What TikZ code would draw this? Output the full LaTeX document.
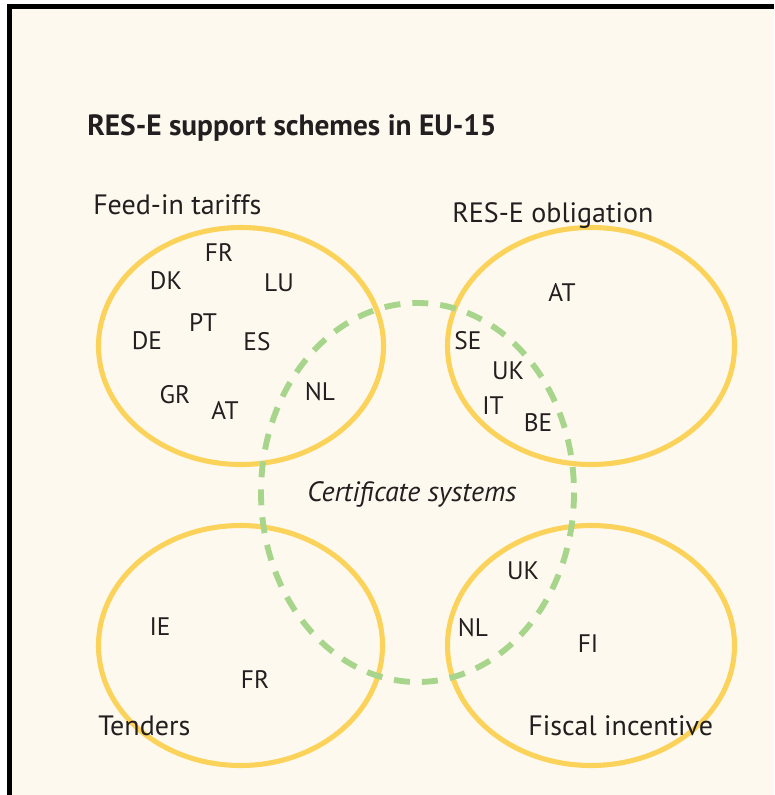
\documentclass[tikz,border=0pt]{standalone}
\usepackage{fontspec}
\setmainfont{PT Sans}
\definecolor{paper}{HTML}{FDF9EE}
\definecolor{sun}{HTML}{FBD25A}
\definecolor{leaf}{HTML}{A8D58C}
\definecolor{ink}{HTML}{231F20}

\begin{document}
\begin{tikzpicture}[x=0.75pt,y=-0.75pt,
  ring/.style={draw=sun,line width=3.8pt},
  cert/.style={draw=leaf,line width=4.4pt,dash pattern=on 12pt off 9pt},
  cc/.style={text=ink,inner sep=0pt,font=\fontsize{19}{22}\selectfont},
  head/.style={text=ink,inner sep=0pt,font=\fontsize{21}{24}\selectfont}]
  \useasboundingbox (0,0) rectangle (774,795);
  \fill[white] (0,0) rectangle (774,795);
  \fill[paper] (9,6) rectangle (774,795);
  \draw[line width=3.8pt] (9.5,795) -- (9.5,6.5) -- (774,6.5);
  % centres of the four schemes and of the certificate ring
  \coordinate (fit) at (241,346);
  \coordinate (obl) at (591,346);
  \coordinate (ten) at (240.5,645.5);
  \coordinate (fis) at (591,645.5);
  \coordinate (crt) at (417.5,492.5);
  \draw[ring] (fit) ellipse [x radius=142.5,y radius=118.5];
  \draw[ring] (obl) ellipse [x radius=143.5,y radius=118.5];
  \draw[ring] (ten) ellipse [x radius=142,y radius=120];
  \draw[ring] (fis) ellipse [x radius=143.5,y radius=120];
  \draw[cert] (crt) ellipse [x radius=156.5,y radius=189.5];
  % titles
  \node[text=ink,inner sep=0pt,anchor=west,font=\fontsize{22}{26}\selectfont\bfseries]
    (title) at (87,128) {RES-E support schemes in EU-15};
  \node[head,anchor=west] (fitlbl) at (93,205) {Feed-in tariffs};
  \node[head,anchor=west] (obllbl) at (452,215) {RES-E obligation};
  \node[head,anchor=west] (tenlbl) at (98,726) {Tenders};
  \node[head,anchor=west] (fislbl) at (528,726) {Fiscal incentive};
  \node[head,font=\fontsize{21}{24}\selectfont\itshape] (crtlbl) at (412,494) {Certificate systems};
  % feed-in tariffs
  \node[cc] (fitFR) at (219,253) {FR};
  \node[cc] (fitDK) at (166,281) {DK};
  \node[cc] (fitLU) at (279,283) {LU};
  \node[cc] (fitPT) at (203,323) {PT};
  \node[cc] (fitDE) at (147,341) {DE};
  \node[cc] (fitES) at (257,342) {ES};
  \node[cc] (fitGR) at (175,395) {GR};
  \node[cc] (fitAT) at (225,410) {AT};
  \node[cc] (fitNL) at (320,392) {NL};
  % obligation
  \node[cc] (oblAT) at (562,292) {AT};
  \node[cc] (oblSE) at (468,341) {SE};
  \node[cc] (oblUK) at (508,371) {UK};
  \node[cc] (oblIT) at (493,406) {IT};
  \node[cc] (oblBE) at (538,423) {BE};
  % tenders
  \node[cc] (tenIE) at (160,627) {IE};
  \node[cc] (tenFR) at (255,680) {FR};
  % fiscal incentive
  \node[cc] (fisUK) at (523,571) {UK};
  \node[cc] (fisNL) at (473,628) {NL};
  \node[cc] (fisFI) at (588,644) {FI};
\end{tikzpicture}
\end{document}
